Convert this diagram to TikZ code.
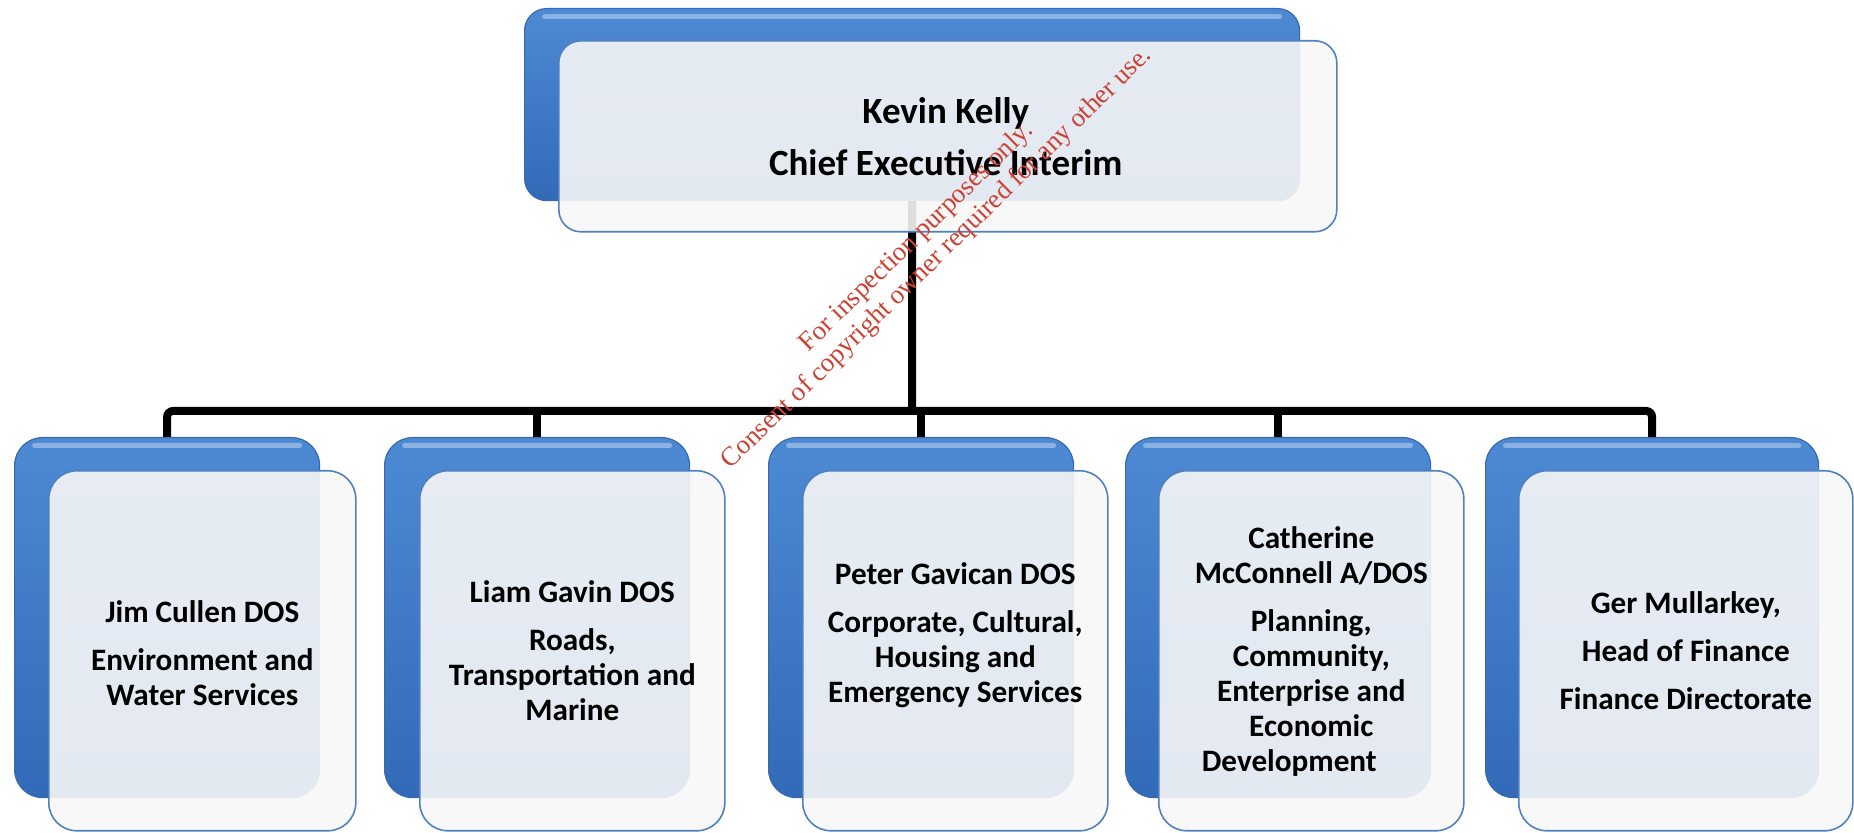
\documentclass[tikz,border=0pt]{standalone}
\usepackage{fontspec}
\usetikzlibrary{calc}
\setmainfont{Carlito}
\newfontfamily\wmfont{Liberation Serif}
\definecolor{bluetop}{RGB}{78,138,212}
\definecolor{bluemid}{RGB}{60,123,201}
\definecolor{bluebot}{RGB}{50,106,184}
\definecolor{blueedge}{RGB}{55,105,175}
\definecolor{frontfill}{RGB}{247,247,248}
\definecolor{frontedge}{RGB}{79,129,189}
\definecolor{wmred}{RGB}{205,65,50}
\tikzset{
  backbox/.style={rounded corners=14pt, draw=blueedge, line width=0.6pt,
    top color=bluetop, middle color=bluemid, bottom color=bluebot,
    minimum width=152.5pt, minimum height=180pt, inner sep=0pt, anchor=north west,
    path picture={\draw[white, opacity=0.35, line width=2.5pt, line cap=round]
      ($(path picture bounding box.north west)+(20,8)$) -- ($(path picture bounding box.north east)+(-20,8)$);}},
  frontbox/.style={rounded corners=14pt, draw=frontedge, line width=0.8pt,
    fill=frontfill, fill opacity=0.9,
    minimum width=152.5pt, minimum height=180pt, inner sep=0pt, anchor=north west},
  conn/.style={draw=black, line width=4pt},
  lbl/.style={font=\bfseries\fontsize{15.6}{17.5}\selectfont, align=center, text=black, inner sep=0pt},
  toplbl/.style={font=\bfseries\fontsize{18.5}{20}\selectfont, align=center, text=black, inner sep=0pt},
  wm/.style={font=\wmfont\fontsize{13.4}{14.6}\selectfont, text=wmred, align=center, inner sep=0pt}
}
\begin{document}
\begin{tikzpicture}[x=0.5pt,y=-0.5pt]
\useasboundingbox (0,0) rectangle (1854,833);
% back boxes
\node[backbox, rounded corners=11pt, minimum width=387.5pt, minimum height=96pt] (tb) at (524,8) {};
\node[backbox] (b1) at (14,437) {};
\node[backbox] (b2) at (384,437) {};
\node[backbox] (b3) at (768,437) {};
\node[backbox] (b4) at (1125,437) {};
\node[backbox, minimum width=166.5pt] (b5) at (1485,437) {};
% connectors
\coordinate (bar) at (912,411);
\draw[conn] (tb.south) -- (bar);
\draw[conn, rounded corners=3pt] (b1.north) |- (bar) -| (b5.north);
\draw[conn] (bar -| b2.north) -- (b2.north);
\draw[conn] (bar -| b3.north) -- (b3.north);
\draw[conn] (bar -| b4.north) -- (b4.north);
% front boxes
\node[frontbox, rounded corners=11pt, minimum width=389pt, minimum height=95.5pt] (tf) at (558,40) {};
\node[frontbox, minimum width=153.5pt] (f1) at (48,470) {};
\node[frontbox] (f2) at (419,470) {};
\node[frontbox] (f3) at (802,470) {};
\node[frontbox] (f4) at (1158,470) {};
\node[frontbox, minimum width=167pt] (f5) at (1518,470) {};
% texts
\node[toplbl] (t0) at ($(tf.center)+(-2,0)$) {Kevin Kelly\\[6pt]Chief Executive Interim};
\node[lbl] (t1) at ($(f1.center)+(0,2)$) {Jim Cullen DOS\\[6.5pt]Environment and\\Water Services};
\node[lbl] (t2) at ($(f2.center)+(0,0)$) {Liam Gavin DOS\\[6.5pt]Roads,\\Transportation and\\Marine};
\node[lbl] (t3) at ($(f3.center)+(0,-16)$) {Peter Gavican DOS\\[6.5pt]Corporate, Cultural,\\Housing and\\Emergency Services};
\node[lbl] (t4) at ($(f4.center)+(0,1)$) {Catherine\\McConnell A/DOS\\[6.5pt]Planning,\\Community,\\Enterprise and\\Economic\\Development\rule{22pt}{0pt}};
\node[lbl] (t5) at ($(f5.center)+(0,0)$) {Ger Mullarkey,\\[6.5pt]Head of Finance\\[6.5pt]Finance Directorate};
% watermark
\node[wm, rotate=44.4] (wmk) at (927,248) {For inspection purposes only.\\Consent of copyright owner required for any other use.};
\end{tikzpicture}
\end{document}
